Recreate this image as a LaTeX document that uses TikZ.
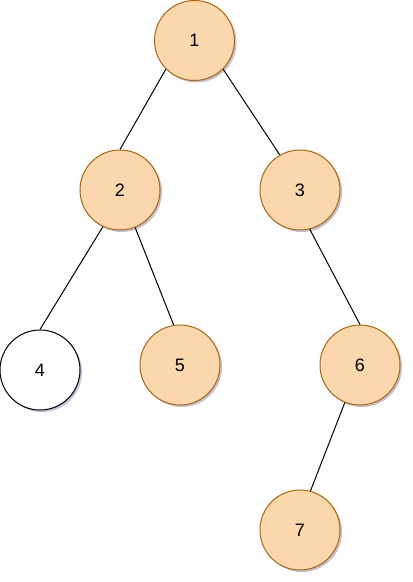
\documentclass[tikz,border=0pt]{standalone}
\usepackage{fontspec}
\setmainfont{Liberation Sans}
\usetikzlibrary{shadows}
\definecolor{nodefill}{HTML}{FAD7AC}
\definecolor{nodeline}{HTML}{B46504}
\begin{document}
\begin{tikzpicture}[x=0.75pt,y=-0.75pt,
  treenode/.style={circle,draw=nodeline,fill=nodefill,line width=0.75pt,
    minimum size=60pt,inner sep=0pt,font=\fontsize{13.5pt}{16pt}\selectfont,
    drop shadow={shadow xshift=1.5pt,shadow yshift=-1.5pt,opacity=0.25,fill=black!60!blue}},
  plainnode/.style={treenode,draw=black,fill=white},
  edge/.style={draw=black,line width=0.75pt}]
\useasboundingbox (0,0) rectangle (412,582);
\node[treenode] (n1) at (194.5,40.5) {1};
\node[treenode] (n2) at (120,190) {2};
\node[treenode] (n3) at (300,190) {3};
\node[plainnode] (n4) at (40,370) {4};
\node[treenode] (n5) at (180,365) {5};
\node[treenode] (n6) at (360,365) {6};
\node[treenode] (n7) at (300,530) {7};
\draw[edge] (n1.225) -- (n2.north);
\draw[edge] (n1.315) -- (n3.120);
\draw[edge] (n2.245) -- (n4.north);
\draw[edge] (n2.292) -- (n5.99);
\draw[edge] (n3.284) -- (n6.north);
\draw[edge] (n6.248) -- (n7.75);
\end{tikzpicture}
\end{document}
